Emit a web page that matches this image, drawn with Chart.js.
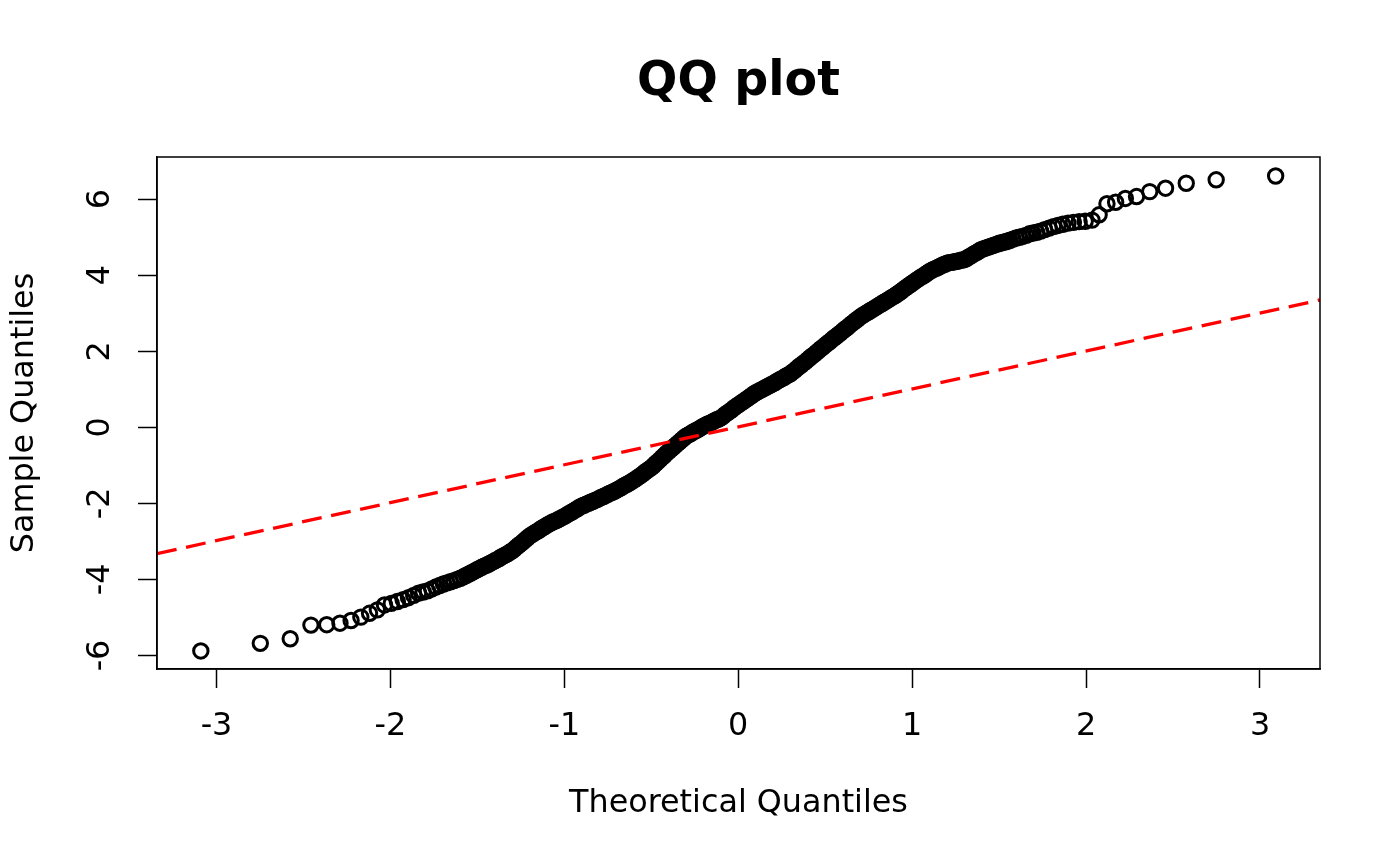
<!DOCTYPE html>
<html>
<head>
<meta charset="utf-8">
<script src="https://cdn.jsdelivr.net/npm/chart.js@4.4.0/dist/chart.umd.min.js"></script>
<style>
  html, body { margin: 0; background: #fff; }
  canvas { display: block; }
</style>
</head>
<body>
<canvas id="qq" width="1400" height="866"></canvas>
<script>
const titleText = "QQ plot";
const xLabel = "Theoretical Quantiles";
const yLabel = "Sample Quantiles";
const xTicks = [-3, -2, -1, 0, 1, 2, 3];
const yTicks = [-6, -4, -2, 0, 2, 4, 6];
const xRange = [-3.342, 3.345];
const yRange = [-6.355, 7.11];

// reference line (qqline), read at the plot edges
const refLineX = [-3.342, 3.345];
const refLineY = [-3.32, 3.35];

// lower tail, one value per circle
const lowerX = [-3.090, -2.748, -2.576, -2.457, -2.366, -2.290, -2.226, -2.170, -2.120, -2.075,
  -2.034, -1.995, -1.960, -1.927, -1.896, -1.866, -1.838, -1.812, -1.787, -1.762,
  -1.739, -1.717, -1.695, -1.675, -1.655, -1.635, -1.616, -1.598, -1.580, -1.563];
const lowerY = [-5.88, -5.68, -5.56, -5.20, -5.19, -5.15, -5.08, -4.99, -4.89, -4.80,
  -4.67, -4.63, -4.58, -4.53, -4.48, -4.42, -4.36, -4.33, -4.30, -4.25,
  -4.20, -4.16, -4.12, -4.09, -4.06, -4.03, -4.00, -3.97, -3.93, -3.89];

// dense middle part
const coreX = [
  -1.55, -1.5375, -1.525, -1.5125,
  -1.5, -1.4875, -1.475, -1.4625, -1.45, -1.4375, -1.425, -1.4125,
  -1.4, -1.3875, -1.375, -1.3625, -1.35, -1.3375, -1.325, -1.3125,
  -1.3, -1.2875, -1.275, -1.2625, -1.25, -1.2375, -1.225, -1.2125,
  -1.2, -1.1875, -1.175, -1.1625, -1.15, -1.1375, -1.125, -1.1125,
  -1.1, -1.0875, -1.075, -1.0625, -1.05, -1.0375, -1.025, -1.0125,
  -1.0, -0.9875, -0.975, -0.9625, -0.95, -0.9375, -0.925, -0.9125,
  -0.9, -0.8875, -0.875, -0.8625, -0.85, -0.8375, -0.825, -0.8125,
  -0.8, -0.7875, -0.775, -0.7625, -0.75, -0.7375, -0.725, -0.7125,
  -0.7, -0.6875, -0.675, -0.6625, -0.65, -0.6375, -0.625, -0.6125,
  -0.6, -0.5875, -0.575, -0.5625, -0.55, -0.5375, -0.525, -0.5125,
  -0.5, -0.4875, -0.475, -0.4625, -0.45, -0.4375, -0.425, -0.4125,
  -0.4, -0.3875, -0.375, -0.3625, -0.35, -0.3375, -0.325, -0.3125,
  -0.3, -0.2875, -0.275, -0.2625, -0.25, -0.2375, -0.225, -0.2125,
  -0.2, -0.1875, -0.175, -0.1625, -0.15, -0.1375, -0.125, -0.1125,
  -0.1, -0.0875, -0.075, -0.0625, -0.05, -0.0375, -0.025, -0.0125,
  0.0, 0.0125, 0.025, 0.0375, 0.05, 0.0625, 0.075, 0.0875,
  0.1, 0.1125, 0.125, 0.1375, 0.15, 0.1625, 0.175, 0.1875,
  0.2, 0.2125, 0.225, 0.2375, 0.25, 0.2625, 0.275, 0.2875,
  0.3, 0.3125, 0.325, 0.3375, 0.35, 0.3625, 0.375, 0.3875,
  0.4, 0.4125, 0.425, 0.4375, 0.45, 0.4625, 0.475, 0.4875,
  0.5, 0.5125, 0.525, 0.5375, 0.55, 0.5625, 0.575, 0.5875,
  0.6, 0.6125, 0.625, 0.6375, 0.65, 0.6625, 0.675, 0.6875,
  0.7, 0.7125, 0.725, 0.7375, 0.75, 0.7625, 0.775, 0.7875,
  0.8, 0.8125, 0.825, 0.8375, 0.85, 0.8625, 0.875, 0.8875,
  0.9, 0.9125, 0.925, 0.9375, 0.95, 0.9625, 0.975, 0.9875,
  1.0, 1.0125, 1.025, 1.0375, 1.05, 1.0625, 1.075, 1.0875,
  1.1, 1.1125, 1.125, 1.1375, 1.15, 1.1625, 1.175, 1.1875,
  1.2, 1.2125, 1.225, 1.2375, 1.25, 1.2625, 1.275, 1.2875,
  1.3, 1.3125, 1.325, 1.3375, 1.35, 1.3625, 1.375, 1.3875,
  1.4, 1.4125, 1.425, 1.4375, 1.45, 1.4625, 1.475, 1.4875,
  1.5, 1.5125, 1.525, 1.5375, 1.55
];
const coreY = [
  -3.86, -3.83, -3.80, -3.77,
  -3.74, -3.71, -3.68, -3.65, -3.63, -3.60, -3.57, -3.54,
  -3.51, -3.48, -3.45, -3.41, -3.38, -3.35, -3.32, -3.28,
  -3.25, -3.20, -3.15, -3.10, -3.06, -3.01, -2.96, -2.91,
  -2.86, -2.82, -2.79, -2.75, -2.72, -2.68, -2.64, -2.61,
  -2.57, -2.54, -2.51, -2.48, -2.46, -2.43, -2.40, -2.37,
  -2.34, -2.31, -2.27, -2.24, -2.21, -2.17, -2.14, -2.10,
  -2.07, -2.05, -2.02, -2.00, -1.97, -1.95, -1.92, -1.90,
  -1.87, -1.84, -1.82, -1.79, -1.76, -1.73, -1.71, -1.68,
  -1.65, -1.62, -1.59, -1.55, -1.52, -1.49, -1.46, -1.42,
  -1.39, -1.35, -1.31, -1.27, -1.23, -1.18, -1.14, -1.10,
  -1.06, -1.01, -0.95, -0.90, -0.85, -0.79, -0.74, -0.68,
  -0.63, -0.58, -0.53, -0.48, -0.43, -0.38, -0.33, -0.28,
  -0.23, -0.20, -0.17, -0.13, -0.10, -0.07, -0.04, 0.00,
  0.03, 0.06, 0.09, 0.11, 0.14, 0.17, 0.20, 0.22,
  0.25, 0.29, 0.34, 0.38, 0.42, 0.46, 0.51, 0.55,
  0.59, 0.63, 0.67, 0.71, 0.75, 0.79, 0.83, 0.87,
  0.91, 0.94, 0.97, 1.00, 1.03, 1.06, 1.09, 1.12,
  1.15, 1.18, 1.22, 1.25, 1.28, 1.31, 1.35, 1.38,
  1.41, 1.46, 1.50, 1.55, 1.60, 1.64, 1.69, 1.73,
  1.78, 1.83, 1.88, 1.92, 1.97, 2.02, 2.07, 2.11,
  2.16, 2.21, 2.25, 2.30, 2.35, 2.39, 2.44, 2.48,
  2.53, 2.58, 2.62, 2.67, 2.72, 2.76, 2.81, 2.85,
  2.90, 2.94, 2.97, 3.01, 3.04, 3.08, 3.11, 3.15,
  3.18, 3.22, 3.25, 3.29, 3.32, 3.36, 3.39, 3.43,
  3.46, 3.50, 3.54, 3.58, 3.63, 3.67, 3.71, 3.75,
  3.79, 3.83, 3.87, 3.91, 3.95, 3.98, 4.02, 4.06,
  4.10, 4.13, 4.16, 4.18, 4.21, 4.24, 4.27, 4.29,
  4.32, 4.33, 4.34, 4.35, 4.36, 4.37, 4.39, 4.40,
  4.41, 4.44, 4.48, 4.51, 4.55, 4.58, 4.61, 4.65,
  4.68, 4.70, 4.72, 4.74, 4.76, 4.78, 4.80, 4.82,
  4.84, 4.85, 4.87, 4.88, 4.90
];

// upper tail, one value per circle
const upperX = [1.563, 1.580, 1.598, 1.616, 1.635, 1.655, 1.675, 1.695, 1.717, 1.739,
  1.762, 1.787, 1.812, 1.838, 1.866, 1.896, 1.927, 1.960, 1.995, 2.034,
  2.075, 2.120, 2.170, 2.226, 2.290, 2.366, 2.457, 2.576, 2.748, 3.090];
const upperY = [4.92, 4.95, 4.98, 5.00, 5.02, 5.05, 5.09, 5.11, 5.13, 5.16,
  5.20, 5.24, 5.28, 5.31, 5.34, 5.37, 5.39, 5.41, 5.42, 5.45,
  5.59, 5.88, 5.92, 6.02, 6.07, 6.20, 6.29, 6.42, 6.51, 6.61];

const theoretical = lowerX.concat(coreX, upperX);
const sample = lowerY.concat(coreY, upperY);
const points = theoretical.map((x, i) => ({ x: x, y: sample[i] }));
const refLine = refLineX.map((x, i) => ({ x: x, y: refLineY[i] }));

const FONT = "'DejaVu Sans', 'Liberation Sans', sans-serif";
const LABEL_SIZE = 31.8;

const framePlugin = {
  id: "frame",
  afterDatasetsDraw(chart) {
    const { ctx, chartArea: a } = chart;
    ctx.save();
    ctx.strokeStyle = "#000";
    ctx.lineWidth = 1.5;
    ctx.strokeRect(a.left, a.top, a.right - a.left, a.bottom - a.top);
    ctx.fillStyle = "#000";
    ctx.font = "bold 47.5px " + FONT;
    ctx.textAlign = "center";
    ctx.textBaseline = "alphabetic";
    ctx.fillText(titleText, (a.left + a.right) / 2, 95);
    ctx.restore();
  }
};

const axisGrid = {
  drawOnChartArea: false,
  drawTicks: true,
  tickLength: 19,
  tickWidth: 1.5,
  tickColor: "#000"
};

new Chart(document.getElementById("qq"), {
  type: "scatter",
  data: {
    datasets: [
      {
        type: "line",
        data: refLine,
        borderColor: "#ff0000",
        borderWidth: 3.3,
        borderDash: [20, 9.7],
        pointRadius: 0,
        fill: false,
        clip: 0,
        order: 0
      },
      {
        data: points,
        pointStyle: "circle",
        pointRadius: 7.2,
        pointHoverRadius: 7.2,
        pointBorderWidth: 3,
        pointBorderColor: "#000",
        pointBackgroundColor: "rgba(0,0,0,0)",
        order: 1
      }
    ]
  },
  options: {
    responsive: false,
    animation: false,
    devicePixelRatio: 1,
    events: [],
    layout: { padding: { top: 157, right: 80, left: 0, bottom: 0 } },
    plugins: {
      legend: { display: false },
      tooltip: { enabled: false }
    },
    scales: {
      x: {
        type: "linear",
        min: xRange[0],
        max: xRange[1],
        afterBuildTicks: (s) => { s.ticks = xTicks.map((v) => ({ value: v })); },
        afterFit: (s) => { s.height = 197; },
        grid: axisGrid,
        border: { display: true, color: "#000", width: 1.5 },
        ticks: {
          autoSkip: false,
          maxRotation: 0,
          padding: 20,
          color: "#000",
          font: { family: FONT, size: LABEL_SIZE }
        },
        title: {
          display: true,
          text: xLabel,
          color: "#000",
          font: { family: FONT, size: LABEL_SIZE },
          padding: { top: 0, bottom: 43 }
        }
      },
      y: {
        type: "linear",
        min: yRange[0],
        max: yRange[1],
        afterBuildTicks: (s) => { s.ticks = yTicks.map((v) => ({ value: v })); },
        afterFit: (s) => { s.width = 157; },
        grid: axisGrid,
        border: { display: true, color: "#000", width: 1.5 },
        ticks: {
          autoSkip: false,
          minRotation: 90,
          maxRotation: 90,
          crossAlign: "center",
          padding: 21,
          color: "#000",
          font: { family: FONT, size: LABEL_SIZE }
        },
        title: {
          display: true,
          text: yLabel,
          color: "#000",
          font: { family: FONT, size: LABEL_SIZE },
          padding: { top: 6, bottom: 0 }
        }
      }
    }
  },
  plugins: [framePlugin]
});
</script>
</body>
</html>
